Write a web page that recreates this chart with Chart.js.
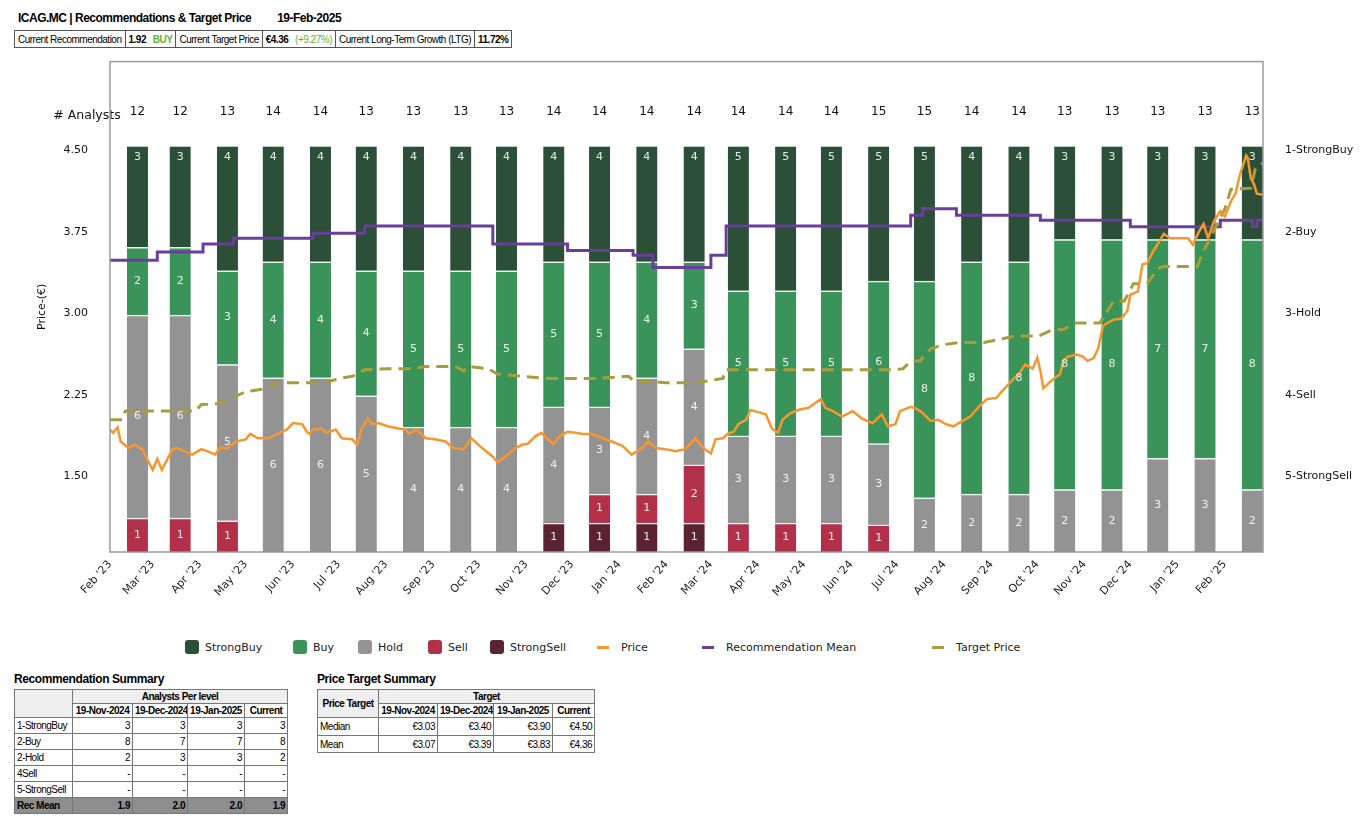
<!DOCTYPE html>
<html>
<head>
<meta charset="utf-8">
<script src="https://cdn.jsdelivr.net/npm/chart.js@4.4.1/dist/chart.umd.min.js"></script>
<style>
  body { margin: 0; background: #fff; font-family: 'Liberation Sans', Arial, sans-serif; color: #000; }
  #page { position: relative; width: 1366px; height: 832px; overflow: hidden; }
  #title { position: absolute; left: 18px; top: 11px; font-size: 12px; font-weight: bold; letter-spacing: -0.5px; white-space: nowrap; }
  #title .dt { margin-left: 26px; }
  #info { position: absolute; left: 14px; top: 30px; border-collapse: collapse; font-size: 10px; letter-spacing: -0.5px; }
  #info td { border: 1px solid #555; padding: 0 3px; height: 16px; white-space: nowrap; }
  .grn { color: #5cb531; }
  #chartBox { position: absolute; left: 0; top: 33px; width: 1366px; height: 593px; }
  #legend { position: absolute; left: 0; top: 638px; width: 1366px; height: 18px; font-family: 'DejaVu Sans', sans-serif; font-size: 11px; color: #222; }
  .lg { position: absolute; top: 0; display: flex; align-items: center; height: 18px; white-space: nowrap; }
  .lg .sw { width: 14px; height: 14px; border-radius: 3px; margin-right: 6px; }
  .lg .ln { width: 12px; height: 3px; margin-right: 12px; }
  .ttl { position: absolute; font-size: 12px; font-weight: bold; letter-spacing: -0.4px; }
  table.sum { position: absolute; border-collapse: collapse; table-layout: fixed; font-size: 10px; letter-spacing: -0.5px; }
  table.sum td, table.sum th { border: 1px solid #777; padding: 0 2px; white-space: nowrap; overflow: hidden; }
  table.sum th { font-weight: bold; text-align: center; height: 13px; }
  table.sum th.hd { background: #eeeeee; }
  table.sum td { text-align: right; height: 15px; }
  table.sum td:first-child { text-align: left; }
  table.sum tr.mean td { background: #8e8e8e; font-weight: bold; }
</style>
</head>
<body>
<div id="page">
  <div id="title">ICAG.MC | Recommendations &amp; Target Price<span class="dt">19-Feb-2025</span></div>
  <table id="info">
    <tr>
      <td>Current Recommendation</td>
      <td><b>1.92</b>&nbsp;&nbsp; <b class="grn">BUY</b></td>
      <td>Current Target Price</td>
      <td><b>€4.36</b>&nbsp;&nbsp; <span class="grn">(+9.27%)</span></td>
      <td>Current Long-Term Growth (LTG)</td>
      <td><b>11.72%</b></td>
    </tr>
  </table>

  <div id="chartBox"><canvas id="chart" width="1366" height="593"></canvas></div>
  <div id="legend"></div>

  <div class="ttl" style="left:14px;top:672px">Recommendation Summary</div>
  <table class="sum" style="left:14px;top:689px;width:274px">
    <colgroup><col style="width:58px"><col style="width:60px"><col style="width:55px"><col style="width:57px"><col style="width:43px"></colgroup>
    <tr><th rowspan="2" class="hd"></th><th colspan="4" class="hd">Analysts Per level</th></tr>
    <tr><th>19-Nov-2024</th><th>19-Dec-2024</th><th>19-Jan-2025</th><th>Current</th></tr>
    <tr><td>1-StrongBuy</td><td>3</td><td>3</td><td>3</td><td>3</td></tr>
    <tr><td>2-Buy</td><td>8</td><td>7</td><td>7</td><td>8</td></tr>
    <tr><td>2-Hold</td><td>2</td><td>3</td><td>3</td><td>2</td></tr>
    <tr><td>4Sell</td><td>-</td><td>-</td><td>-</td><td>-</td></tr>
    <tr><td>5-StrongSell</td><td>-</td><td>-</td><td>-</td><td>-</td></tr>
    <tr class="mean"><td>Rec Mean</td><td>1.9</td><td>2.0</td><td>2.0</td><td>1.9</td></tr>
  </table>

  <div class="ttl" style="left:317px;top:672px">Price Target Summary</div>
  <table class="sum" style="left:317px;top:689px;width:277px">
    <colgroup><col style="width:61px"><col style="width:59px"><col style="width:56px"><col style="width:59px"><col style="width:42px"></colgroup>
    <tr><th rowspan="2" class="hd">Price Target</th><th colspan="4" class="hd">Target</th></tr>
    <tr><th>19-Nov-2024</th><th>19-Dec-2024</th><th>19-Jan-2025</th><th>Current</th></tr>
    <tr><td style="height:17px">Median</td><td>€3.03</td><td>€3.40</td><td>€3.90</td><td>€4.50</td></tr>
    <tr><td style="height:16px">Mean</td><td>€3.07</td><td>€3.39</td><td>€3.83</td><td>€4.36</td></tr>
  </table>
</div>

<script>
// Month labels (x axis) – one bar per month, taken on the 19th
const monthLabels = ["Feb '23", "Mar '23", "Apr '23", "May '23", "Jun '23", "Jul '23", "Aug '23", "Sep '23",
  "Oct '23", "Nov '23", "Dec '23", "Jan '24", "Feb '24", "Mar '24", "Apr '24", "May '24", "Jun '24",
  "Jul '24", "Aug '24", "Sep '24", "Oct '24", "Nov '24", "Dec '24", "Jan '25", "Feb '25"];

// Analysts per level
const strongBuy  = [3, 3, 4, 4, 4, 4, 4, 4, 4, 4, 4, 4, 4, 5, 5, 5, 5, 5, 4, 4, 3, 3, 3, 3, 3];
const buy        = [2, 2, 3, 4, 4, 4, 5, 5, 5, 5, 5, 4, 3, 5, 5, 5, 6, 8, 8, 8, 8, 8, 7, 7, 8];
const hold       = [6, 6, 5, 6, 6, 5, 4, 4, 4, 4, 3, 4, 4, 3, 3, 3, 3, 2, 2, 2, 2, 2, 3, 3, 2];
const sell       = [1, 1, 1, 0, 0, 0, 0, 0, 0, 0, 1, 1, 2, 1, 1, 1, 1, 0, 0, 0, 0, 0, 0, 0, 0];
const strongSell = [0, 0, 0, 0, 0, 0, 0, 0, 0, 1, 1, 1, 1, 0, 0, 0, 0, 0, 0, 0, 0, 0, 0, 0, 0];

// Share price (€)
const priceDates = ['2023-02-01','2023-02-03','2023-02-06','2023-02-08','2023-02-13','2023-02-17','2023-02-22','2023-02-26',
  '2023-03-01','2023-03-04','2023-03-07','2023-03-10','2023-03-14','2023-03-17','2023-03-22','2023-03-27',
  '2023-04-02','2023-04-06','2023-04-11','2023-04-14','2023-04-19','2023-04-25','2023-05-01','2023-05-04',
  '2023-05-09','2023-05-16','2023-05-22','2023-05-28','2023-06-01','2023-06-07','2023-06-10','2023-06-12',
  '2023-06-14','2023-06-20','2023-06-23','2023-06-29','2023-07-03','2023-07-10','2023-07-13','2023-07-16',
  '2023-07-20','2023-07-23','2023-07-27','2023-08-02','2023-08-09','2023-08-14','2023-08-16','2023-08-21',
  '2023-08-27','2023-09-02','2023-09-09','2023-09-14','2023-09-21','2023-09-26','2023-10-03','2023-10-10',
  '2023-10-13','2023-10-18','2023-10-25','2023-10-29','2023-11-02','2023-11-07','2023-11-11','2023-11-15',
  '2023-11-19','2023-11-23','2023-11-28','2023-12-03','2023-12-08','2023-12-14','2023-12-21','2023-12-27',
  '2024-01-03','2024-01-09','2024-01-16','2024-01-20','2024-01-25','2024-01-31','2024-02-07','2024-02-13',
  '2024-02-20','2024-02-25','2024-03-01','2024-03-04','2024-03-09','2024-03-12','2024-03-16','2024-03-19',
  '2024-03-24','2024-03-27','2024-04-01','2024-04-06','2024-04-10','2024-04-14','2024-04-17','2024-04-22',
  '2024-04-27','2024-05-04','2024-05-08','2024-05-12','2024-05-15','2024-05-20','2024-05-26','2024-06-02',
  '2024-06-08','2024-06-15','2024-06-21','2024-06-25','2024-06-30','2024-07-03','2024-07-10','2024-07-14',
  '2024-07-18','2024-07-23','2024-07-28','2024-08-02','2024-08-07','2024-08-13','2024-08-18','2024-08-25',
  '2024-08-29','2024-09-04','2024-09-09','2024-09-15','2024-09-19','2024-09-23','2024-09-28','2024-10-01',
  '2024-10-03','2024-10-05','2024-10-08','2024-10-12','2024-10-16','2024-10-18','2024-10-21','2024-10-27',
  '2024-10-31','2024-11-03','2024-11-07','2024-11-10','2024-11-13','2024-11-16','2024-11-20','2024-11-25',
  '2024-11-29','2024-12-01','2024-12-06','2024-12-09','2024-12-12','2024-12-16','2024-12-20','2024-12-23',
  '2024-12-27','2025-01-03','2025-01-08','2025-01-11','2025-01-15','2025-01-18','2025-01-21','2025-01-25',
  '2025-01-29','2025-02-01','2025-02-05','2025-02-08','2025-02-11','2025-02-15','2025-02-16','2025-02-18',
  '2025-02-20','2025-02-22','2025-02-26'];
const priceValues = [1.93, 1.90, 1.95, 1.82, 1.76, 1.79, 1.75, 1.64,
  1.56, 1.66, 1.56, 1.64, 1.75, 1.76, 1.73, 1.70,
  1.75, 1.73, 1.70, 1.76, 1.76, 1.82, 1.84, 1.89,
  1.85, 1.85, 1.89, 1.93, 1.99, 1.98, 1.91, 1.89,
  1.93, 1.94, 1.90, 1.93, 1.85, 1.84, 1.79, 1.94,
  2.03, 1.98, 1.99, 1.96, 1.94, 1.93, 1.89, 1.93,
  1.85, 1.84, 1.82, 1.76, 1.75, 1.85, 1.76, 1.68,
  1.63, 1.68, 1.76, 1.79, 1.80, 1.87, 1.90, 1.84,
  1.80, 1.87, 1.91, 1.90, 1.89, 1.89, 1.85, 1.82,
  1.78, 1.70, 1.76, 1.82, 1.76, 1.75, 1.73, 1.75,
  1.85, 1.76, 1.71, 1.84, 1.85, 1.89, 1.91, 1.98,
  2.02, 2.11, 2.09, 2.07, 1.94, 1.90, 2.02, 2.08,
  2.11, 2.13, 2.17, 2.21, 2.13, 2.10, 2.05, 2.10,
  2.03, 1.99, 2.07, 1.96, 1.98, 2.10, 2.14, 2.12,
  2.08, 2.01, 2.02, 1.98, 1.96, 2.01, 2.05, 2.16,
  2.21, 2.22, 2.30, 2.39, 2.44, 2.53, 2.49, 2.59,
  2.47, 2.31, 2.35, 2.40, 2.44, 2.56, 2.60, 2.62,
  2.60, 2.56, 2.59, 2.68, 2.88, 2.91, 2.94, 2.95,
  3.02, 3.17, 3.20, 3.45, 3.46, 3.57, 3.66, 3.73,
  3.69, 3.69, 3.69, 3.63, 3.75, 3.82, 3.69, 3.85,
  3.94, 3.89, 4.03, 4.10, 4.28, 4.45, 4.43, 4.24,
  4.19, 4.10, 4.09];

// Mean target price (€)
const targetDates = ['2023-02-01','2023-02-09','2023-02-11','2023-03-29','2023-04-02','2023-04-13','2023-04-22','2023-05-01',
  '2023-05-12','2023-05-22','2023-06-22','2023-07-01','2023-07-10','2023-07-18','2023-08-02','2023-08-18',
  '2023-08-27','2023-09-15','2023-09-21','2023-09-24','2023-10-07','2023-10-13','2023-10-29','2023-11-15',
  '2023-12-16','2024-01-07','2024-01-11','2024-01-25','2024-01-31','2024-02-20','2024-03-09','2024-03-10',
  '2024-03-12','2024-05-25','2024-06-30','2024-07-05','2024-07-10','2024-07-16','2024-07-23','2024-07-31',
  '2024-08-10','2024-08-27','2024-09-06','2024-09-17','2024-10-02','2024-10-11','2024-10-18','2024-10-26',
  '2024-11-11','2024-11-20','2024-11-27','2024-12-03','2024-12-12','2024-12-19','2024-12-23','2025-01-14',
  '2025-01-17','2025-01-22','2025-01-27','2025-02-01','2025-02-05','2025-02-18','2025-02-21','2025-02-26'];
const targetValues = [2.02, 2.02, 2.10, 2.10, 2.16, 2.17, 2.22, 2.28,
  2.30, 2.36, 2.36, 2.40, 2.42, 2.48, 2.49, 2.49,
  2.51, 2.51, 2.47, 2.51, 2.49, 2.44, 2.42, 2.40,
  2.40, 2.42, 2.37, 2.37, 2.36, 2.36, 2.40, 2.47,
  2.48, 2.48, 2.48, 2.49, 2.56, 2.56, 2.67, 2.71,
  2.73, 2.73, 2.76, 2.79, 2.79, 2.85, 2.85, 2.91,
  2.91, 3.11, 3.11, 3.27, 3.27, 3.41, 3.43, 3.43,
  3.54, 3.68, 3.82, 3.96, 4.14, 4.15, 4.33, 4.38];

// Recommendation mean (1 = StrongBuy ... 5 = StrongSell), value holds from each date on
const recDates = ['2023-02-01','2023-03-04','2023-04-03','2023-04-23','2023-06-14','2023-07-18','2023-10-10','2023-11-28',
  '2024-01-10','2024-01-23','2024-03-01','2024-03-11','2024-07-10','2024-07-18','2024-08-09','2024-10-03',
  '2024-12-01','2025-01-29','2025-02-19','2025-02-22','2025-02-26'];
const recValues = [2.35, 2.25, 2.15, 2.08, 2.02, 1.93, 2.15, 2.23,
  2.29, 2.44, 2.29, 1.93, 1.80, 1.72, 1.80, 1.86,
  1.94, 1.86, 1.94, 1.86, 1.86];

const recLevels = ['1-StrongBuy', '2-Buy', '3-Hold', '4-Sell', '5-StrongSell'];
const priceTicks = [1.50, 2.25, 3.00, 3.75, 4.50];

// x axis runs in days since 1-Feb-2023
const dayOf = s => (Date.parse(s) - Date.parse('2023-02-01')) / 86400000;
const dayOfUTC = (y, m, d) => (Date.UTC(y, m, d) - Date.parse('2023-02-01')) / 86400000;
const monthTicks = monthLabels.map((_, i) => dayOfUTC(2023, 1 + i, 1));
const barDays = monthLabels.map((_, i) => dayOfUTC(2023, 1 + i, 19));
const totals = monthLabels.map((_, i) => strongBuy[i] + buy[i] + hold[i] + sell[i] + strongSell[i]);

// price axis range; the right-hand recommendation axis is kept aligned with it
const PMIN = 0.804, PMAX = 5.314;
const toRec = p => 1 + (4.5 - p) / 0.75;

const FONT = '"DejaVu Sans", Verdana, sans-serif';
const barSeries = [
  { name: 'StrongSell', counts: strongSell, color: '#5b2331' },
  { name: 'Sell', counts: sell, color: '#b3304b' },
  { name: 'Hold', counts: hold, color: '#939393' },
  { name: 'Buy', counts: buy, color: '#3a9459' },
  { name: 'StrongBuy', counts: strongBuy, color: '#2b5037' }
];

const datasets = [
  { type: 'line', label: 'Price', yAxisID: 'y', order: 1,
    data: priceDates.map((d, i) => ({ x: dayOf(d), y: priceValues[i] })),
    borderColor: '#f7962f', borderWidth: 2.5, pointRadius: 0, tension: 0 },
  { type: 'line', label: 'Target Price', yAxisID: 'y', order: 2,
    data: targetDates.map((d, i) => ({ x: dayOf(d), y: targetValues[i] })),
    borderColor: '#a89c3c', borderWidth: 3, borderDash: [12, 7], pointRadius: 0, tension: 0 },
  { type: 'line', label: 'Recommendation Mean', yAxisID: 'yRec', order: 3,
    data: recDates.map((d, i) => ({ x: dayOf(d), y: recValues[i] })),
    borderColor: '#6a3d9e', borderWidth: 3, pointRadius: 0, stepped: 'before' }
];
barSeries.forEach(s => {
  datasets.push({
    type: 'bar', label: s.name, yAxisID: 'yBars', order: 10, stack: 'analysts',
    data: barDays.map((d, i) => ({ x: d, y: s.counts[i] / totals[i] * 100 })),
    backgroundColor: s.color, borderColor: 'rgba(235,245,238,0.9)',
    borderWidth: { top: 1.5, left: 0, right: 0, bottom: 0 }, borderSkipped: false,
    barThickness: 21
  });
});

// labels inside bars, analyst counts, box and axis title
const overlay = {
  id: 'overlay',
  afterDatasetsDraw(chart) {
    const { ctx, chartArea: a, scales } = chart;
    ctx.save();
    ctx.textAlign = 'center';
    ctx.textBaseline = 'middle';
    ctx.font = '11px ' + FONT;
    chart.data.datasets.forEach((ds, di) => {
      if (ds.type !== 'bar') return;
      const s = barSeries.find(b => b.name === ds.label);
      chart.getDatasetMeta(di).data.forEach((el, i) => {
        const n = s.counts[i];
        if (!n) return;
        const top = Math.min(el.y, el.base), bot = Math.max(el.y, el.base);
        const ly = s.name === 'StrongBuy' ? top + 11 : (top + bot) / 2;
        ctx.fillStyle = 'rgba(245,248,246,0.92)';
        ctx.fillText(String(n), el.x, ly);
      });
    });
    ctx.fillStyle = '#111';
    ctx.font = '12px ' + FONT;
    totals.forEach((t, i) => ctx.fillText(String(t), scales.x.getPixelForValue(barDays[i]), a.top + 50));
    ctx.font = '12.5px ' + FONT;
    ctx.fillText('# Analysts', a.left - 23, a.top + 54);
    ctx.save();
    ctx.translate(42, (a.top + a.bottom) / 2);
    ctx.rotate(-Math.PI / 2);
    ctx.font = '11px ' + FONT;
    ctx.fillText('Price-(€)', 0, 0);
    ctx.restore();
    ctx.strokeStyle = '#9c9c9c';
    ctx.lineWidth = 1.5;
    ctx.strokeRect(a.left, a.top, a.right - a.left, a.bottom - a.top);
    ctx.restore();
  }
};

new Chart(document.getElementById('chart'), {
  type: 'bar',
  data: { datasets },
  options: {
    responsive: false,
    animation: false,
    layout: { padding: { top: 6, left: 0, right: 0, bottom: 0 } },
    plugins: { legend: { display: false }, tooltip: { enabled: false } },
    scales: {
      x: {
        type: 'linear', offset: false, stacked: true, min: 0, max: 756,
        grid: { display: false, drawTicks: false }, border: { display: false },
        afterBuildTicks: sc => { sc.ticks = monthTicks.map(v => ({ value: v })); },
        afterFit: sc => { sc.height = 74; },
        ticks: {
          autoSkip: false, minRotation: 48, maxRotation: 48, padding: 6, color: '#222',
          font: { family: FONT, size: 11 },
          callback: (v, i) => monthLabels[i]
        }
      },
      y: {
        position: 'left', min: PMIN, max: PMAX,
        grid: { display: false, drawTicks: false }, border: { display: false },
        afterBuildTicks: sc => { sc.ticks = priceTicks.map(v => ({ value: v })); },
        afterFit: sc => { sc.width = 110; },
        ticks: { padding: 22, color: '#111', font: { family: FONT, size: 11 }, callback: v => v.toFixed(2) }
      },
      yBars: { display: false, stacked: true, min: 0, max: 120.7 },
      yRec: {
        position: 'right', reverse: true, min: toRec(PMAX), max: toRec(PMIN),
        grid: { display: false, drawTicks: false }, border: { display: false },
        afterBuildTicks: sc => { sc.ticks = recLevels.map((_, i) => ({ value: i + 1 })); },
        afterFit: sc => { sc.width = 103; },
        ticks: { padding: 22, color: '#111', font: { family: FONT, size: 11 }, callback: v => recLevels[v - 1] }
      }
    }
  },
  plugins: [overlay]
});

// legend built from the series names and colours
const legendItems = [
  ...barSeries.slice().reverse().map(s => ({ name: s.name, color: s.color, kind: 'sw' })),
  { name: 'Price', color: '#f7962f', kind: 'ln' },
  { name: 'Recommendation Mean', color: '#6a3d9e', kind: 'ln' },
  { name: 'Target Price', color: '#a89c3c', kind: 'ln' }
];
const legendLeft = [185, 293, 358, 428, 490, 597, 702, 932];
const legend = document.getElementById('legend');
legendItems.forEach((it, i) => {
  const el = document.createElement('div');
  el.className = 'lg';
  el.style.left = legendLeft[i] + 'px';
  el.innerHTML = `<span class="${it.kind}" style="background:${it.color}"></span>${it.name}`;
  legend.appendChild(el);
});
</script>
</body>
</html>
